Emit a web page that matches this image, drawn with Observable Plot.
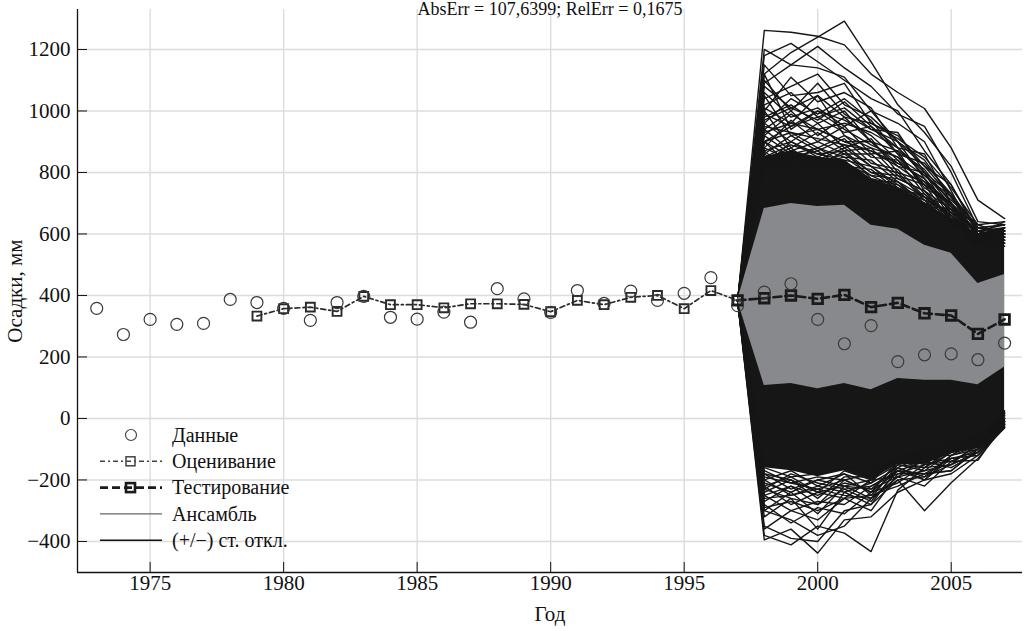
<!DOCTYPE html>
<html>
<head>
<meta charset="utf-8">
<script src="https://cdn.jsdelivr.net/npm/d3@7"></script>
<script src="https://cdn.jsdelivr.net/npm/@observablehq/plot@0.6"></script>
<style>
  html, body { margin: 0; padding: 0; background: #fff; }
  #wrap { position: relative; width: 1027px; height: 631px; overflow: hidden; font-family: "Liberation Serif", "DejaVu Serif", serif; }
  #title { position: absolute; left: 0; width: 1100px; top: 0px; text-align: center; font-size: 18px; line-height: 18px; color: #111; white-space: nowrap; }
  #legend { position: absolute; left: 95px; top: 420px; }
  #legend text { font-family: "Liberation Serif", serif; font-size: 20px; fill: #111; }
</style>
</head>
<body>
<div id="wrap">
  <div id="chart"></div>
  <div id="title">AbsErr = 107,6399; RelErr = 0,1675</div>
  <div id="legend"></div>
</div>
<script>
// ---- Data ----
const xTicks = [1975, 1980, 1985, 1990, 1995, 2000, 2005];
const yTicks = [-400, -200, 0, 200, 400, 600, 800, 1000, 1200];

// Данные (observations)
const dataYears = [1973,1974,1975,1976,1977,1978,1979,1980,1981,1982,1983,1984,1985,1986,1987,1988,1989,1990,1991,1992,1993,1994,1995,1996,1997,1998,1999,2000,2001,2002,2003,2004,2005,2006,2007];
const dataValues = [358,273,322,306,309,387,377,358,319,377,397,329,323,346,313,422,389,345,416,374,414,384,407,458,367,411,438,322,243,302,185,207,210,191,245];

// Оценивание (fit)
const estYears = [1979,1980,1981,1982,1983,1984,1985,1986,1987,1988,1989,1990,1991,1992,1993,1994,1995,1996,1997];
const estValues = [333,357,362,348,397,370,370,360,373,373,371,347,384,370,394,400,357,416,384];

// Тестирование (test)
const testYears = [1997,1998,1999,2000,2001,2002,2003,2004,2005,2006,2007];
const testValues = [384,391,400,389,402,362,376,342,335,275,322];

// (+/-) ст. откл. band
const bandUpper = [384,683,699,689,693,628,615,563,537,439,468];
const bandLower = [384,107,114,97,114,93,130,124,124,110,167];

// Ансамбль: dense core of the ensemble and individual visible members
const ensembleYears = [1997,1998,1999,2000,2001,2002,2003,2004,2005,2006,2007];
const ensembleStart = 382;
const coreUpper = [382,850,870,850,840,780,750,700,650,600,620];
const coreLower = [382,-160,-170,-190,-170,-200,-150,-150,-115,-95,-22];
const ensembleUpper = [
  [1262,1256,1243,1215,1120,1060,1008,880,710,650],
  [1120,1190,1240,1292,1160,1020,930,820,640,630],
  [1200,1150,1210,1140,1080,990,950,800,620,610],
  [1180,1220,1160,1100,1040,1000,870,760,600,640],
  [1090,1150,1140,1110,1000,960,900,740,580,600],
  [1040,1080,1120,1020,980,900,840,720,590,590],
  [1150,1050,1060,1090,960,920,820,760,610,570],
  [1000,1110,1030,1060,1010,880,860,700,570,610],
  [1100,1000,1090,990,940,930,800,690,600,580],
  [960,1040,990,1040,970,860,830,730,560,600],
  [1060,980,1010,950,1000,900,780,680,580,560],
  [980,1020,960,1000,900,870,810,700,590,620],
  [1120,940,1000,970,920,840,770,670,560,590],
  [920,990,940,960,930,880,790,720,620,600],
  [1010,960,1050,920,880,850,760,690,570,580],
  [940,1000,920,980,900,820,800,660,550,570],
  [900,950,980,930,950,860,750,700,600,610],
  [1050,920,940,900,870,830,780,650,580,590],
  [880,970,900,950,860,870,740,680,560,600],
  [960,900,960,880,910,800,770,700,590,570],
  [900,930,880,920,850,840,730,660,570,620],
  [1000,880,930,870,880,790,760,640,600,580],
  [860,920,870,910,830,810,720,690,560,600],
  [940,870,900,860,860,780,740,650,580,590],
  [870,900,850,890,820,800,710,670,570,610],
  [920,860,880,850,840,770,700,640,590,580],
  [850,890,860,870,800,790,720,660,560,600],
  [900,850,840,880,820,760,690,650,580,590],
  [850,870,830,860,800,770,720,660,590,610],
  [820,900,860,840,820,750,700,680,600,620],
  [880,840,880,830,790,780,740,640,570,600],
  [830,860,820,870,780,760,710,670,610,590],
  [900,820,850,820,810,740,730,650,580,620],
  [810,850,870,810,770,770,690,680,600,600],
  [860,810,830,850,790,750,720,640,590,610],
  [840,880,810,830,760,730,700,660,570,590],
  [870,800,820,840,750,740,710,630,580,600],
  [950,930,910,890,870,820,760,700,620,630],
  [990,950,1000,940,890,850,790,710,630,640],
  [1020,1060,980,1010,940,900,820,720,610,620],
  [970,1010,1050,980,960,910,850,750,630,600],
  [930,960,940,900,900,830,780,690,610,630],
  [1080,1010,970,1030,950,880,800,730,620,610]
];
const ensembleLower = [
  [-395,-360,-438,-330,-320,-240,-200,-180,-120,-30],
  [-380,-411,-350,-373,-433,-233,-160,-150,-110,-20],
  [-350,-390,-400,-300,-280,-200,-300,-209,-130,-25],
  [-300,-330,-380,-350,-260,-190,-220,-140,-136,-15],
  [-360,-300,-330,-260,-300,-180,-180,-170,-100,-10],
  [-280,-340,-290,-310,-240,-210,-150,-130,-120,-20],
  [-320,-260,-360,-240,-280,-160,-200,-120,-90,0],
  [-250,-300,-270,-280,-220,-170,-140,-160,-110,-10],
  [-300,-240,-310,-220,-260,-150,-170,-110,-80,10],
  [-220,-280,-240,-260,-200,-190,-130,-140,-100,-5],
  [-270,-220,-280,-200,-240,-140,-160,-100,-90,15],
  [-200,-250,-220,-240,-210,-160,-120,-120,-70,0],
  [-240,-200,-260,-190,-190,-130,-150,-90,-95,20],
  [-180,-230,-200,-220,-230,-150,-110,-110,-60,10],
  [-220,-190,-240,-170,-200,-120,-140,-80,-80,25],
  [-170,-210,-190,-200,-180,-140,-100,-100,-50,5],
  [-200,-170,-220,-180,-210,-110,-130,-70,-70,20],
  [-160,-190,-180,-160,-170,-130,-100,-90,-60,15],
  [-190,-210,-230,-200,-240,-170,-180,-130,-110,-30],
  [-230,-180,-210,-230,-220,-180,-150,-140,-90,-10],
  [-210,-240,-200,-180,-250,-160,-190,-120,-100,-20],
  [-250,-220,-250,-210,-230,-190,-170,-150,-80,0],
  [-180,-200,-240,-220,-200,-150,-160,-110,-95,-15],
  [-260,-250,-230,-250,-260,-200,-190,-150,-110,-25],
  [-230,-260,-280,-230,-270,-170,-200,-130,-120,-30],
  [-290,-270,-300,-260,-250,-220,-180,-170,-100,-10]
];

// ---- Tables built from the arrays ----
const dataRows = dataYears.map((x, i) => ({x, y: dataValues[i]}));
const estRows = estYears.map((x, i) => ({x, y: estValues[i]}));
const testRows = testYears.map((x, i) => ({x, y: testValues[i]}));
const bandRows = testYears.map((x, i) => ({x, y1: bandLower[i], y2: bandUpper[i]}));
const coreRows = ensembleYears.map((x, i) => ({x, y1: coreLower[i], y2: coreUpper[i]}));
const ensembleRows = [];
[...ensembleUpper, ...ensembleLower].forEach((vals, id) => {
  [ensembleStart, ...vals].forEach((v, j) => ensembleRows.push({id, x: ensembleYears[j], y: v}));
});

const fmt = d => d < 0 ? "\u2212" + (-d) : String(d);
const xDomain = [1972.28, 2007.67];
const yDomain = [-501, 1330];

const chart = Plot.plot({
  width: 1027,
  height: 631,
  marginLeft: 77,
  marginRight: 5,
  marginTop: 9,
  marginBottom: 59,
  style: {fontFamily: "'Liberation Serif', serif", fontSize: "21px", color: "#111", background: "white", overflow: "visible"},
  x: {domain: xDomain},
  y: {domain: yDomain},
  marks: [
    Plot.gridX(xTicks, {stroke: "#dcdcdc", strokeOpacity: 1, strokeWidth: 1.4}),
    Plot.gridY(yTicks, {stroke: "#dcdcdc", strokeOpacity: 1, strokeWidth: 1.4}),
    Plot.areaY(coreRows, {x: "x", y1: "y1", y2: "y2", fill: "#161616"}),
    Plot.line(ensembleRows, {x: "x", y: "y", z: "id", stroke: "#161616", strokeWidth: 1.4}),
    Plot.areaY(bandRows, {x: "x", y1: "y1", y2: "y2", fill: "#88898c"}),
    Plot.line(estRows, {x: "x", y: "y", stroke: "#2a2a2a", strokeWidth: 1.7, strokeDasharray: "5,3,2,3"}),
    Plot.dot(estRows, {x: "x", y: "y", symbol: "square", r: 5, stroke: "#2a2a2a", strokeWidth: 1.9, fill: "none"}),
    Plot.line(testRows, {x: "x", y: "y", stroke: "#1a1a1a", strokeWidth: 2.6, strokeDasharray: "8,4"}),
    Plot.dot(testRows, {x: "x", y: "y", symbol: "square", r: 5.4, stroke: "#1a1a1a", strokeWidth: 2.8, fill: "none"}),
    Plot.dot(dataRows, {x: "x", y: "y", symbol: "circle", r: 6, stroke: "#3a3a3a", strokeWidth: 1.2, fill: "none"}),
    Plot.ruleX([xDomain[0]], {stroke: "#111", strokeWidth: 1.3}),
    Plot.ruleY([yDomain[0]], {stroke: "#111", strokeWidth: 1.3}),
    Plot.axisX(xTicks, {tickSize: -10, tickPadding: 13, tickFormat: fmt, stroke: "#111", label: "Год", labelAnchor: "center", labelArrow: "none", labelOffset: 48}),
    Plot.axisY(yTicks, {tickSize: -10, tickPadding: 17, tickFormat: fmt, stroke: "#111", label: "Осадки, мм", labelAnchor: "center", labelArrow: "none", labelOffset: 70})
  ]
});
document.getElementById("chart").appendChild(chart);

// ---- Legend (inside the plot area, bottom-left) ----
const legendItems = ["Данные", "Оценивание", "Тестирование", "Ансамбль", "(+/−) ст. откл."];
const lg = d3.select("#legend").append("svg").attr("width", 260).attr("height", 135);
const rowY = i => 15 + i * 26.3;
lg.append("circle").attr("cx", 36).attr("cy", rowY(0)).attr("r", 5.5).attr("fill", "none").attr("stroke", "#444").attr("stroke-width", 1.2);
lg.append("line").attr("x1", 5).attr("x2", 67).attr("y1", rowY(1)).attr("y2", rowY(1)).attr("stroke", "#444").attr("stroke-width", 1.5).attr("stroke-dasharray", "5,3,2,3");
lg.append("rect").attr("x", 31).attr("y", rowY(1) - 4.5).attr("width", 9).attr("height", 9).attr("fill", "none").attr("stroke", "#444").attr("stroke-width", 1.5);
lg.append("line").attr("x1", 5).attr("x2", 67).attr("y1", rowY(2)).attr("y2", rowY(2)).attr("stroke", "#1a1a1a").attr("stroke-width", 2.6).attr("stroke-dasharray", "8,4");
lg.append("rect").attr("x", 31).attr("y", rowY(2) - 4.5).attr("width", 9).attr("height", 9).attr("fill", "none").attr("stroke", "#1a1a1a").attr("stroke-width", 2.6);
lg.append("line").attr("x1", 5).attr("x2", 67).attr("y1", rowY(3)).attr("y2", rowY(3)).attr("stroke", "#666").attr("stroke-width", 1.3);
lg.append("line").attr("x1", 5).attr("x2", 67).attr("y1", rowY(4)).attr("y2", rowY(4)).attr("stroke", "#111").attr("stroke-width", 1.5);
legendItems.forEach((t, i) => {
  lg.append("text").attr("x", 77).attr("y", rowY(i)).attr("dy", "0.33em").text(t);
});
</script>
</body>
</html>
